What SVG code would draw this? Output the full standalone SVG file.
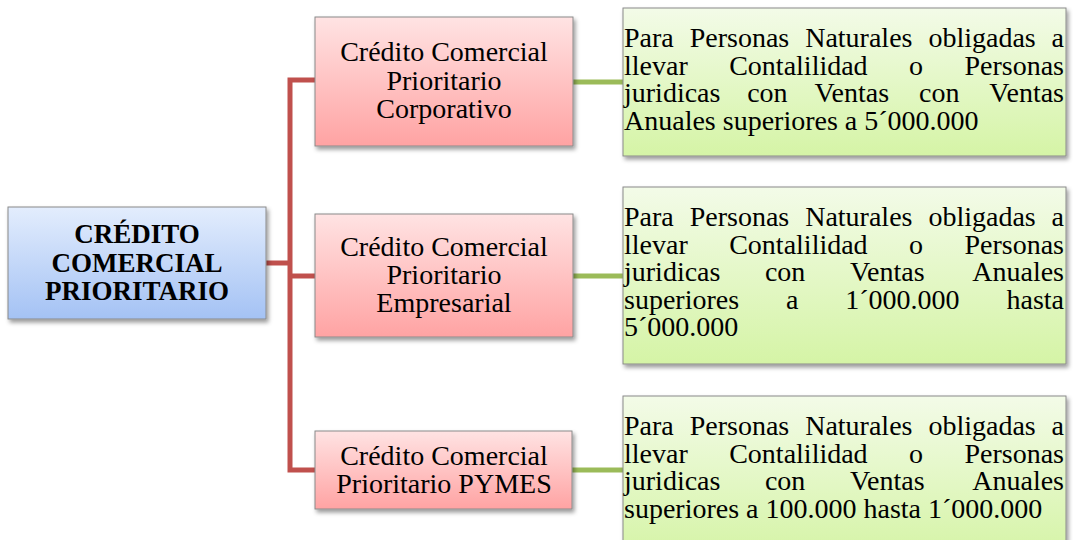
<svg xmlns="http://www.w3.org/2000/svg" width="1073" height="540" viewBox="0 0 1073 540">
<style>
.box{stroke:#8a8a8a;stroke-width:1;filter:url(#sh)}
.t{font-family:"Liberation Serif","Times New Roman",serif;font-size:28px;fill:#000}
.c{text-anchor:middle}
.e{text-anchor:end}
.b{font-weight:bold;font-size:27px}
.red{fill:none;stroke:#c0504d;stroke-width:5;stroke-linejoin:miter}
.grn{fill:none;stroke:#9bbb59;stroke-width:5}
</style>
<defs>
<filter id="sh" x="-10%" y="-10%" width="130%" height="140%">
<feDropShadow dx="2" dy="3" stdDeviation="2" flood-color="#000" flood-opacity="0.4"/>
</filter>
<linearGradient id="gb" x1="0" y1="0" x2="0" y2="1"><stop offset="0" stop-color="#e3edfd"/><stop offset="1" stop-color="#a4c2f4"/></linearGradient>
<linearGradient id="gr" x1="0" y1="0" x2="0" y2="1"><stop offset="0" stop-color="#ffe3e3"/><stop offset="1" stop-color="#ffa3a3"/></linearGradient>
<linearGradient id="gg" x1="0" y1="0" x2="0" y2="1"><stop offset="0" stop-color="#f3fbe8"/><stop offset="1" stop-color="#d5f4a6"/></linearGradient>
</defs>
<g id="connectors">
<path class="red" d="M266,263 H290"/>
<path class="red" d="M315,80 H290 V470 H315"/>
<path class="red" d="M290,276 H315"/>
<path class="grn" d="M573,82 H623"/>
<path class="grn" d="M573,276 H623"/>
<path class="grn" d="M572,470 H623"/>
</g>
<g id="root">
<rect class="box" x="8" y="207" width="258" height="112" fill="url(#gb)"/>
<text class="t c b" x="137" y="243">CRÉDITO</text>
<text class="t c b" x="137" y="272">COMERCIAL</text>
<text class="t c b" x="137" y="300">PRIORITARIO</text>
</g>
<g id="corporativo">
<rect class="box" x="315" y="17" width="258" height="129" fill="url(#gr)"/>
<text class="t c" x="444" y="61">Crédito Comercial</text>
<text class="t c" x="444" y="89.5">Prioritario</text>
<text class="t c" x="444" y="118">Corporativo</text>
</g>
<g id="empresarial">
<rect class="box" x="315" y="214" width="258" height="123" fill="url(#gr)"/>
<text class="t c" x="444" y="256">Crédito Comercial</text>
<text class="t c" x="444" y="284">Prioritario</text>
<text class="t c" x="444" y="312">Empresarial</text>
</g>
<g id="pymes">
<rect class="box" x="315" y="431" width="257" height="78" fill="url(#gr)"/>
<text class="t c" x="444" y="465">Crédito Comercial</text>
<text class="t c" x="444" y="493">Prioritario PYMES</text>
</g>
<g id="desc-corporativo">
<rect class="box" x="623" y="8" width="443" height="148" fill="url(#gg)"/>
<text class="t" y="47"><tspan x="624">Para</tspan><tspan x="689.7">Personas</tspan><tspan x="805.2">Naturales</tspan><tspan x="928.4">obligadas</tspan></text>
<text class="t e" x="1064" y="47">a</text>
<text class="t" y="74.7"><tspan x="624">llevar</tspan><tspan x="729.2">Contalilidad</tspan><tspan x="909">o</tspan></text>
<text class="t e" x="1064" y="74.7">Personas</text>
<text class="t" y="102.4"><tspan x="624">juridicas</tspan><tspan x="747.2">con</tspan><tspan x="814.5">Ventas</tspan><tspan x="919">con</tspan></text>
<text class="t e" x="1064" y="102.4">Ventas</text>
<text class="t" x="624" y="130">Anuales superiores a 5´000.000</text>
</g>
<g id="desc-empresarial">
<rect class="box" x="623" y="187" width="443" height="177" fill="url(#gg)"/>
<text class="t" y="226"><tspan x="624">Para</tspan><tspan x="689.7">Personas</tspan><tspan x="805.2">Naturales</tspan><tspan x="928.4">obligadas</tspan></text>
<text class="t e" x="1064" y="226">a</text>
<text class="t" y="253.5"><tspan x="624">llevar</tspan><tspan x="729.2">Contalilidad</tspan><tspan x="909">o</tspan></text>
<text class="t e" x="1064" y="253.5">Personas</text>
<text class="t" y="281"><tspan x="624">juridicas</tspan><tspan x="764.9">con</tspan><tspan x="849.9">Ventas</tspan></text>
<text class="t e" x="1064" y="281">Anuales</text>
<text class="t" y="308.5"><tspan x="624">superiores</tspan><tspan x="786">a</tspan><tspan x="845.3">1´000.000</tspan></text>
<text class="t e" x="1064" y="308.5">hasta</text>
<text class="t" x="624" y="336">5´000.000</text>
</g>
<g id="desc-pymes">
<rect class="box" x="623" y="396" width="443" height="160" fill="url(#gg)"/>
<text class="t" y="435"><tspan x="624">Para</tspan><tspan x="689.7">Personas</tspan><tspan x="805.2">Naturales</tspan><tspan x="928.4">obligadas</tspan></text>
<text class="t e" x="1064" y="435">a</text>
<text class="t" y="462.5"><tspan x="624">llevar</tspan><tspan x="729.2">Contalilidad</tspan><tspan x="909">o</tspan></text>
<text class="t e" x="1064" y="462.5">Personas</text>
<text class="t" y="490"><tspan x="624">juridicas</tspan><tspan x="764.9">con</tspan><tspan x="849.9">Ventas</tspan></text>
<text class="t e" x="1064" y="490">Anuales</text>
<text class="t" x="624" y="517.5">superiores a 100.000 hasta 1´000.000</text>
</g>
</svg>
